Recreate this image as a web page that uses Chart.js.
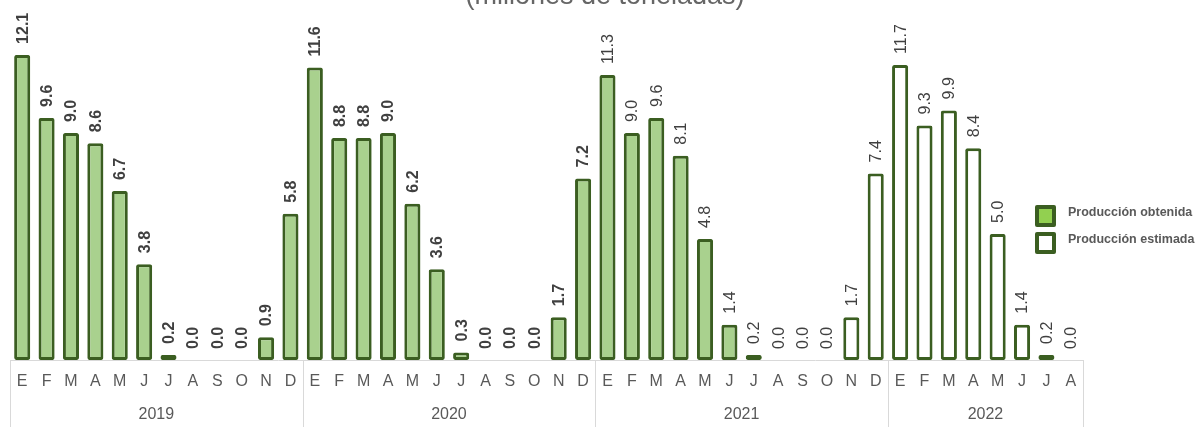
<!DOCTYPE html>
<html>
<head>
<meta charset="utf-8">
<script src="https://cdn.jsdelivr.net/npm/chart.js@4.4.1/dist/chart.umd.min.js"></script>
<style>
  html, body { margin: 0; padding: 0; background: #ffffff; }
  #wrap { width: 1200px; height: 427px; position: relative; }
</style>
</head>
<body>
<div id="wrap"><canvas id="c" width="1200" height="427"></canvas></div>
<script>
// ---- Data ----
const titleText = "(millones de toneladas)";
const monthLetters = ["E","F","M","A","M","J","J","A","S","O","N","D"];
const years = ["2019","2020","2021","2022"];
const monthsPerYear = [12, 12, 12, 8];
const seriesNames = ["Producción obtenida", "Producción estimada"];
// Producción obtenida: Ene 2019 – Oct 2021
const obtained2019 = [12.1, 9.6, 9.0, 8.6, 6.7, 3.8, 0.2, 0.0, 0.0, 0.0, 0.9, 5.8];
const obtained2020 = [11.6, 8.8, 8.8, 9.0, 6.2, 3.6, 0.3, 0.0, 0.0, 0.0, 1.7, 7.2];
const obtained2021 = [11.3, 9.0, 9.6, 8.1, 4.8, 1.4, 0.2, 0.0, 0.0, 0.0];
// Producción estimada: Nov 2021 – Ago 2022
const estimated2021 = [1.7, 7.4];
const estimated2022 = [11.7, 9.3, 9.9, 8.4, 5.0, 1.4, 0.2, 0.0];

// ---- Build ----
const labels = [];
monthsPerYear.forEach(n => { for (let i = 0; i < n; i++) labels.push(monthLetters[i]); });
const total = labels.length;
const obtainedAll = obtained2019.concat(obtained2020, obtained2021);
const estimatedAll = estimated2021.concat(estimated2022);
const obtainedData = obtainedAll.concat(new Array(total - obtainedAll.length).fill(null));
const estimatedData = new Array(total - estimatedAll.length).fill(null).concat(estimatedAll);

const DARK = "#3b5e21";
const FILL = "#a9d18e";
const LEGEND_FILL = "#92d050";
const TEXT = "#595959";
const LABEL = "#404040";
const LINE = "#d9d9d9";
const FONT = "'Liberation Sans', Arial, sans-serif";

const decoPlugin = {
  id: 'deco',
  afterDraw(chart) {
    const ctx = chart.ctx;
    const x = chart.scales.x;
    const area = chart.chartArea;
    ctx.save();
    // title (partially cut at top)
    ctx.fillStyle = "#666666";
    ctx.font = "27px " + FONT;
    ctx.textAlign = "center";
    ctx.textBaseline = "alphabetic";
    ctx.fillText(titleText, 605, 4);

    // year group lines and labels
    ctx.strokeStyle = LINE;
    ctx.lineWidth = 1;
    const bottom = chart.height;
    const bounds = [x.left];
    let idx = 0;
    monthsPerYear.forEach((n, k) => {
      idx += n;
      if (k < monthsPerYear.length - 1) {
        bounds.push((x.getPixelForValue(idx - 1) + x.getPixelForValue(idx)) / 2);
      }
    });
    bounds.push(x.right);
    bounds.forEach(b => {
      const px = Math.round(b) + 0.5;
      ctx.beginPath();
      ctx.moveTo(px, area.bottom);
      ctx.lineTo(px, bottom);
      ctx.stroke();
    });
    ctx.fillStyle = TEXT;
    ctx.font = "16px " + FONT;
    ctx.textAlign = "center";
    ctx.textBaseline = "middle";
    years.forEach((y, k) => {
      ctx.fillText(y, (bounds[k] + bounds[k + 1]) / 2, 415);
    });

    // data labels (rotated)
    chart.data.datasets.forEach((ds, di) => {
      const meta = chart.getDatasetMeta(di);
      meta.data.forEach((bar, i) => {
        const v = ds.data[i];
        if (v === null || v === undefined) return;
        ctx.save();
        ctx.translate(bar.x, bar.y - 11);
        ctx.rotate(-Math.PI / 2);
        ctx.fillStyle = LABEL;
        ctx.font = (i < 24 ? "bold " : "") + "16px " + FONT;
        ctx.textAlign = "left";
        ctx.textBaseline = "middle";
        ctx.fillText(v.toFixed(1), 0, 1);
        ctx.restore();
      });
    });

    // legend
    const items = [
      { text: seriesNames[0], fill: LEGEND_FILL, y: 216 },
      { text: seriesNames[1], fill: "#ffffff", y: 243 }
    ];
    items.forEach(it => {
      ctx.fillStyle = DARK;
      ctx.beginPath();
      ctx.roundRect(1035, it.y - 11, 21, 22, 2);
      ctx.fill();
      ctx.fillStyle = it.fill;
      ctx.fillRect(1039, it.y - 7, 13, 14);
      ctx.fillStyle = TEXT;
      ctx.font = "bold 12.5px " + FONT;
      ctx.textAlign = "left";
      ctx.textBaseline = "middle";
      ctx.fillText(it.text, 1068, it.y - 3);
    });
    ctx.restore();
  }
};

new Chart(document.getElementById('c'), {
  type: 'bar',
  data: {
    labels: labels,
    datasets: [
      {
        label: seriesNames[0],
        data: obtainedData,
        backgroundColor: FILL,
        borderColor: DARK,
        borderWidth: 3,
        borderRadius: 2,
        borderSkipped: false
      },
      {
        label: seriesNames[1],
        data: estimatedData,
        backgroundColor: "#ffffff",
        borderColor: DARK,
        borderWidth: 3,
        borderRadius: 2,
        borderSkipped: false
      }
    ]
  },
  options: {
    responsive: false,
    animation: false,
    devicePixelRatio: 1,
    layout: { padding: { left: 10, right: 117, top: 7, bottom: 0 } },
    datasets: { bar: { grouped: false, barPercentage: 0.66, categoryPercentage: 1.0 } },
    plugins: { legend: { display: false }, tooltip: { enabled: false }, title: { display: false } },
    scales: {
      x: {
        grid: { display: false, drawTicks: false },
        border: { display: true, color: LINE, width: 1 },
        ticks: { color: TEXT, font: { family: FONT, size: 16 }, padding: 12, autoSkip: false, maxRotation: 0 },
        afterFit(scale) { scale.height = 67; }
      },
      y: {
        display: false,
        min: 0,
        max: 14
      }
    }
  },
  plugins: [decoPlugin]
});
</script>
</body>
</html>
